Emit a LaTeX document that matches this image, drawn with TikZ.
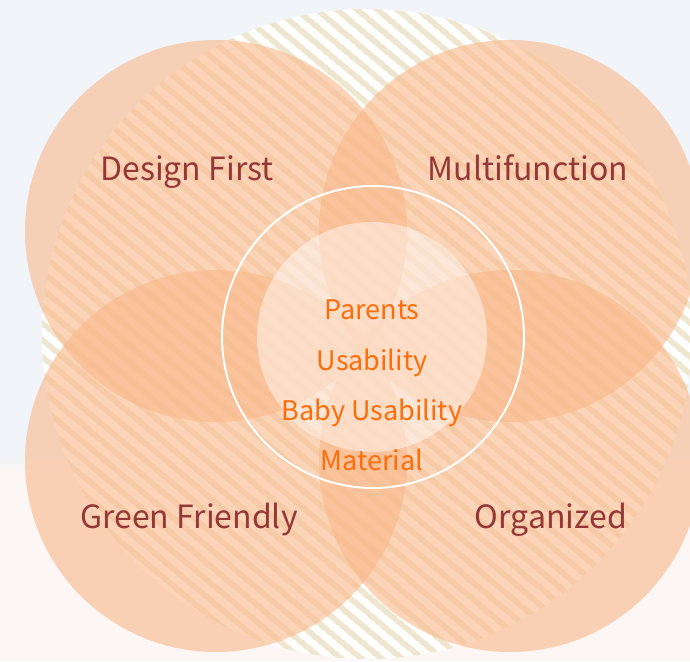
\documentclass[tikz,border=0pt]{standalone}
\usepackage{fontspec}
\setmainfont{Noto Sans CJK KR}
\usetikzlibrary{patterns.meta}
\definecolor{bgtop}{RGB}{241,244,248}
\definecolor{bgbot}{RGB}{252,246,244}
\definecolor{stripe}{RGB}{239,230,207}
\definecolor{petal}{RGB}{250,184,138}
\definecolor{petaltext}{RGB}{150,55,55}
\definecolor{coretext}{RGB}{255,108,10}
\tikzset{
	petal/.style={fill=petal,fill opacity=.6},
	petalword/.style={anchor=base,text=petaltext,font=\fontsize{32}{34}\selectfont},
	coreword/.style={anchor=base,text=coretext,font=\fontsize{27}{30}\selectfont}
}
\begin{document}
\begin{tikzpicture}[x=1pt,y=1pt]
			\def\rpetal{191}
			\def\rcore{115}
			\useasboundingbox (0,0) rectangle (690,661);
			% background
			\fill[bgtop] (0,0) rectangle (690,661);
			\shade[top color=bgtop,bottom color=bgbot] (0,190) rectangle (690,205);
			\fill[bgbot] (0,0) rectangle (690,190);
			\begin{scope}
			\clip (0,0) rectangle (690,661);
			% striped disc
			\fill[white] (367,327) circle (325);
			\fill[pattern={Lines[angle=-40,distance=13pt,line width=6pt]},pattern color=stripe] (367,327) circle (325);
			% petals
			\foreach \x/\y in {216/430,510/430,216/200,510/200}
				\fill[petal] (\x,\y) circle (\rpetal);
			\end{scope}
			% core
			\fill[white,fill opacity=.45] (372,324) circle (\rcore);
			\draw[white,line width=2pt] (373,324) circle (151);
			% labels
			\foreach \name/\x/\y/\word in {design/187/480/Design First,multi/528/480/Multifunction,green/189/132/Green Friendly,organized/551/132/Organized}
				\node[petalword] (\name) at (\x,\y) {\word};
			\foreach \name/\y/\word in {parents/341/Parents,usability/290/Usability,baby/240/Baby Usability,material/190/Material}
				\node[coreword] (\name) at (372,\y) {\word};
		\end{tikzpicture}
\end{document}
